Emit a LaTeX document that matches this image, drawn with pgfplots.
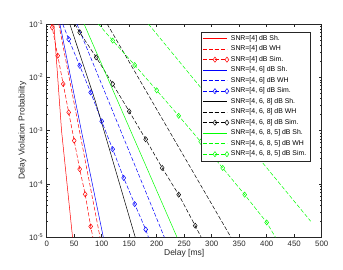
\documentclass[border=0pt]{standalone}
\usepackage{pgfplots}
\pgfplotsset{compat=1.18}
\usepackage{fontspec}
\setmainfont{Liberation Sans}
\definecolor{axgray}{rgb}{0.15,0.15,0.15}
\begin{document}
\begin{tikzpicture}
\path[use as bounding box] (-46.7pt,-31.7pt) rectangle (296.3pt,237.3pt);
\begin{axis}[
  at={(0,0)}, anchor=south west,
  scale only axis, width=275pt, height=213.3pt,
  xmin=0, xmax=500, ymin=1e-5, ymax=1e-1,
  ymode=log,
  xtick={0,50,...,500},
  ytick={1e-5,1e-4,1e-3,1e-2,1e-1},
  yticklabels={10\textsuperscript{-5},10\textsuperscript{-4},10\textsuperscript{-3},10\textsuperscript{-2},10\textsuperscript{-1}},
  /pgf/number format/assume math mode=true,
  tick align=inside, major tick length=3pt, minor tick length=1.6pt,
  every tick/.style={axgray, line width=0.4pt},
  axis line style={axgray, line width=0.5pt},
  tick label style={font=\fontsize{7.8}{9}\selectfont, text=axgray},
  xlabel={Delay [ms]}, ylabel={Delay Violation Probability},
  label style={font=\fontsize{8.5}{10}\selectfont, text=axgray},
  xlabel style={yshift=4pt},
  ylabel style={yshift=-4pt},
  legend cell align=left,
  legend style={at={(axis description cs:0.9575,0.964)}, anchor=north east,
    font=\fontsize{6.9}{8}\selectfont, draw=axgray, line width=0.5pt, fill=white,
    inner sep=1.5pt, row sep=0pt},
  legend image code/.code={\draw[mark repeat=2,mark phase=2] plot coordinates {(0pt,0pt) (12pt,0pt) (24pt,0pt)};},
  every axis plot/.append style={line width=0.5pt},
  clip=true,
]
% red
\addplot[red, solid] coordinates {(13,1e-1) (20,1e-2) (27,1e-3) (37,1e-4) (47,1e-5)};
\addlegendentry{SNR=[4] dB Sh.}
\addplot[red, dash pattern=on 4pt off 2pt] coordinates {(22,1e-1) (97,1e-5)};
\addlegendentry{SNR=[4] dB WH}
\addplot[red, dash pattern=on 4pt off 2pt, mark=diamond, mark size=2.6pt, mark options={solid}, mark indices={2,...,9}]
  coordinates {(8.8,0.1) (10,0.0866) (20,0.0255) (30,0.0075) (40,0.0022) (50,6.5e-4) (60,1.9e-4) (70,6.4e-5) (80,1.6e-5) (84,1e-5)};
\addlegendentry{SNR=[4] dB Sim.}
% blue
\addplot[blue, solid] coordinates {(24,1e-1) (63,1e-3) (103,1e-5)};
\addlegendentry{SNR=[4, 6] dB Sh.}
\addplot[blue, dash pattern=on 4pt off 2pt] coordinates {(55,1e-1) (214,1e-5)};
\addlegendentry{SNR=[4, 6] dB WH}
\addplot[blue, dash pattern=on 4pt off 2pt, mark=diamond, mark size=2.6pt, mark options={solid}, mark indices={2,...,9}]
  coordinates {(29,0.1) (40,0.052) (60,0.0165) (80,0.0052) (100,0.0015) (120,4.5e-4) (140,1.3e-4) (160,4.2e-5) (180,1.4e-5) (185,1e-5)};
\addlegendentry{SNR=[4, 6] dB Sim.}
% black
\addplot[black, solid] coordinates {(42,1e-1) (88,3.7e-3) (161,1e-5)};
\addlegendentry{SNR=[4, 6, 8] dB Sh.}
\addplot[black, dash pattern=on 4pt off 2pt] coordinates {(110,1e-1) (335,1e-5)};
\addlegendentry{SNR=[4, 6, 8] dB WH}
\addplot[black, dash pattern=on 4pt off 2pt, mark=diamond, mark size=2.6pt, mark options={solid}, mark indices={2,...,9}]
  coordinates {(51,0.1) (60,0.07) (90,0.0237) (120,7.5e-3) (150,2.3e-3) (180,6.9e-4) (210,2e-4) (240,6.3e-5) (270,1.65e-5) (281,1e-5)};
\addlegendentry{SNR=[4, 6, 8] dB Sim.}
% green
\addplot[green, solid] coordinates {(68,1e-1) (237,1e-5)};
\addlegendentry{SNR=[4, 6, 8, 5] dB Sh.}
\addplot[green, dash pattern=on 4pt off 2pt] coordinates {(185,1e-1) (480,2e-5)};
\addlegendentry{SNR=[4, 6, 8, 5] dB WH}
\addplot[green, dash pattern=on 4pt off 2pt, mark=diamond, mark size=2.6pt, mark options={solid}, mark indices={2,...,9}]
  coordinates {(94,0.1) (120,0.049) (160,0.017) (200,5.7e-3) (240,1.9e-3) (280,6.2e-4) (320,2e-4) (360,6.3e-5) (400,1.9e-5) (416,1e-5)};
\addlegendentry{SNR=[4, 6, 8, 5] dB Sim.}
\end{axis}
\end{tikzpicture}
\end{document}
